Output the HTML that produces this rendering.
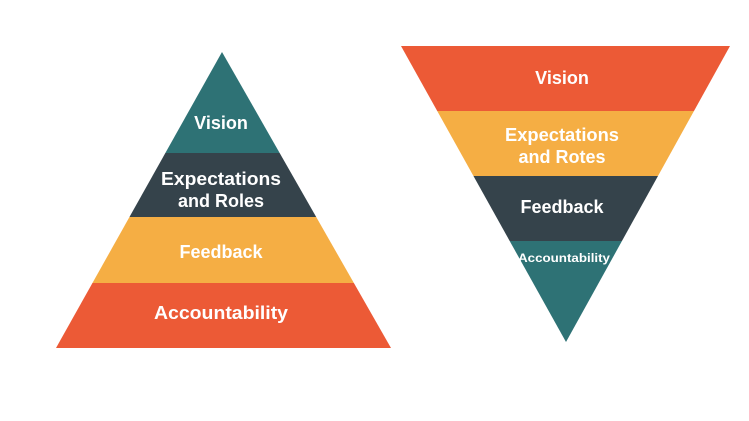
<!DOCTYPE html>
<html><head><style>
html,body{margin:0;padding:0;background:#fff;}
svg text{font-family:"Liberation Sans",sans-serif;font-weight:bold;fill:#fff;text-anchor:middle;}
</style></head><body>
<svg width="749" height="416" viewBox="0 0 749 416" xmlns="http://www.w3.org/2000/svg">
<defs>
<clipPath id="L"><polygon points="222,52 391,348 56,348"/></clipPath>
<clipPath id="R"><polygon points="401,46 730,46 566,342"/></clipPath>
</defs>
<g clip-path="url(#L)">
<rect x="0" y="40" width="420" height="113" fill="#2e7275"/>
<rect x="0" y="153" width="420" height="64" fill="#35434b"/>
<rect x="0" y="217" width="420" height="66" fill="#f5ae44"/>
<rect x="0" y="283" width="420" height="70" fill="#ec5a36"/>
</g>
<g clip-path="url(#R)">
<rect x="390" y="40" width="360" height="71" fill="#ec5a36"/>
<rect x="390" y="111" width="360" height="65" fill="#f5ae44"/>
<rect x="390" y="176" width="360" height="65" fill="#35434b"/>
<rect x="390" y="241" width="360" height="110" fill="#2e7275"/>
</g>
<text x="221" y="129" font-size="18">Vision</text>
<text x="221" y="185" font-size="18" textLength="120" lengthAdjust="spacingAndGlyphs">Expectations</text>
<text x="221" y="207" font-size="18">and Roles</text>
<text x="221" y="258" font-size="18">Feedback</text>
<text x="221" y="319" font-size="18" textLength="134" lengthAdjust="spacingAndGlyphs">Accountability</text>
<text x="562" y="84" font-size="18">Vision</text>
<text x="562" y="141" font-size="18" textLength="114" lengthAdjust="spacingAndGlyphs">Expectations</text>
<text x="562" y="163" font-size="18">and Rotes</text>
<text x="562" y="213" font-size="18">Feedback</text>
<text x="564" y="262" font-size="12" textLength="92" lengthAdjust="spacingAndGlyphs">Accountability</text>
</svg>
</body></html>
